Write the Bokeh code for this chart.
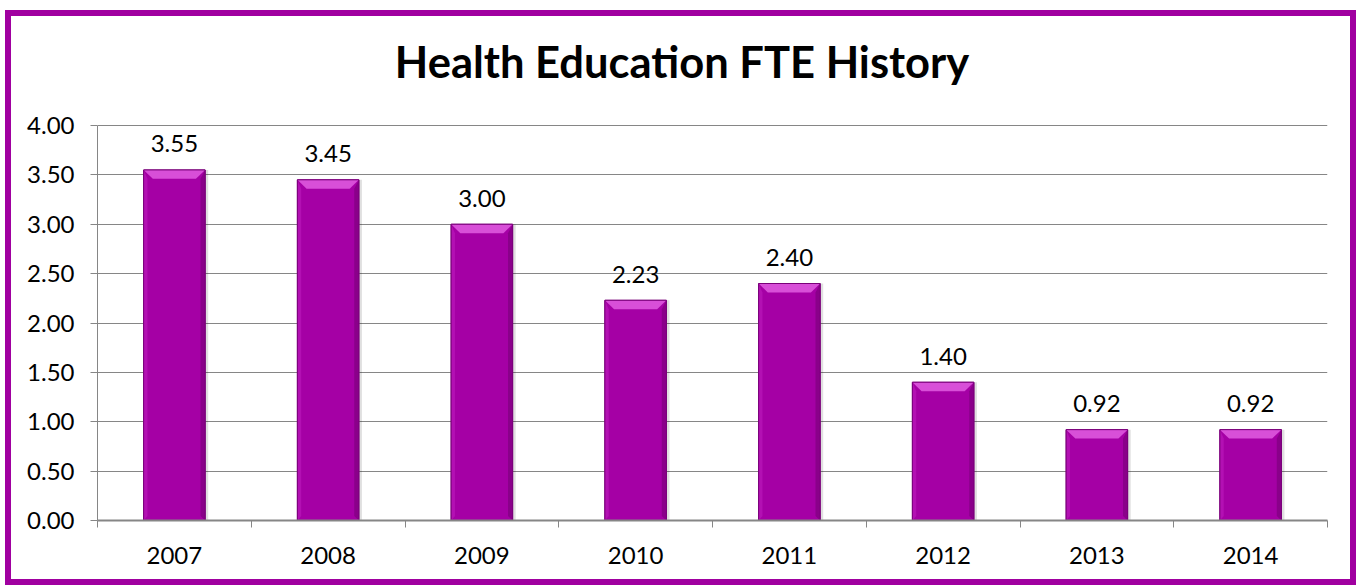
from bokeh.plotting import figure
from bokeh.models import Range1d, FixedTicker, ColumnDataSource, Label
from bokeh.core.properties import value
from bokeh.embed import file_html
from bokeh.resources import INLINE

title_text = "Health Education FTE History"
years = ["2007", "2008", "2009", "2010", "2011", "2012", "2013", "2014"]
fte = [3.55, 3.45, 3.00, 2.23, 2.40, 1.40, 0.92, 0.92]
y_ticks = [0.0, 0.5, 1.0, 1.5, 2.0, 2.5, 3.0, 3.5, 4.0]

FONT = "Lato"
GRAY = "#868686"
PURPLE = "#A000A0"

# page geometry (pixels)
W, H = 1339, 563
CANVAS_X, CANVAS_Y = 11, 16          # canvas origin inside the bordered box
FR_LEFT, FR_RIGHT, FR_BOTTOM = 97, 1327, 520
Y4_PIX = 125                          # page y of the 4.00 gridline
px_per_unit = (FR_BOTTOM - Y4_PIX) / y_ticks[-1]
y_top = (FR_BOTTOM - CANVAS_Y) / px_per_unit

L = FR_LEFT - CANVAS_X
R = (CANVAS_X + W + 12) - FR_RIGHT
B = (CANVAS_Y + H + 12) - FR_BOTTOM

p = figure(width=W, height=H, output_backend="svg", toolbar_location=None,
           x_range=Range1d(0, len(years)), y_range=Range1d(0, y_top),
           min_border_left=L, min_border_right=R, min_border_top=0, min_border_bottom=B,
           tools="")
p.styles = {"box-sizing": "content-box", "border": "6px solid " + PURPLE,
            "margin-left": "5px", "margin-top": "10px"}
p.background_fill_color = "white"
p.border_fill_color = "white"
p.outline_line_color = None

xs = [i + 0.5 for i in range(len(years))]
bw = 0.4
src = ColumnDataSource(dict(x=xs, top=fte, lab=["%.2f" % v for v in fte]))

# shadow
p.vbar(x=[x + 0.02 for x in xs], top=fte, width=bw, bottom=0, fill_color="#000000",
       fill_alpha=0.12, line_color=None)
# main bar
p.vbar(x="x", top="top", width=bw, bottom=0, source=src,
       fill_color="#A500A5", line_color="#7A007A", line_width=1)

# bevel highlight (top) and side shading
d = 0.06
hb = 0.09
tops_x, tops_y, right_x, right_y, left_x, left_y = [], [], [], [], [], []
for x, v in zip(xs, fte):
    x0, x1 = x - bw / 2, x + bw / 2
    tops_x.append([x0, x1, x1 - d, x0 + d])
    tops_y.append([v, v, v - hb, v - hb])
    right_x.append([x1, x1, x1 - 0.03, x1 - 0.03])
    right_y.append([v, 0, hb / 2, v - hb])
    left_x.append([x0, x0, x0 + 0.025, x0 + 0.025])
    left_y.append([v, 0, hb / 2, v - hb])
p.patches(left_x, left_y, fill_color="#B310B3", line_color=None)
p.patches(right_x, right_y, fill_color="#8A008A", line_color=None)
p.patches(tops_x, tops_y, fill_color="#D84FD8", line_color=None)
p.vbar(x="x", top="top", width=bw, bottom=0, source=src,
       fill_color=None, line_color="#7A007A", line_width=1)

# value labels
p.text(x="x", y="top", text="lab", source=src, text_align="center",
       text_baseline="middle", y_offset=-26, text_font=value(FONT),
       text_font_size="24px", text_color="#000000")

# axes
p.yaxis.ticker = FixedTicker(ticks=y_ticks)
p.yaxis.bounds = (y_ticks[0], y_ticks[-1])
p.yaxis.major_label_overrides = {t: "%.2f" % t for t in y_ticks}
p.yaxis.axis_line_color = GRAY
p.yaxis.major_tick_line_color = GRAY
p.yaxis.major_tick_out = 7
p.yaxis.major_tick_in = 0
p.yaxis.minor_tick_line_color = None
p.yaxis.major_label_text_font = FONT
p.yaxis.major_label_text_font_size = "24px"
p.yaxis.major_label_text_color = "#000000"
p.yaxis.major_label_standoff = 16

p.xaxis.ticker = FixedTicker(ticks=xs, minor_ticks=list(range(len(years) + 1)))
p.xaxis.major_label_overrides = {x: y for x, y in zip(xs, years)}
p.xaxis.axis_line_color = GRAY
p.xaxis.axis_line_width = 2
p.xaxis.major_tick_line_color = None
p.xaxis.minor_tick_line_color = GRAY
p.xaxis.minor_tick_out = 7
p.xaxis.minor_tick_in = 0
p.xaxis.major_label_text_font = FONT
p.xaxis.major_label_text_font_size = "24px"
p.xaxis.major_label_text_color = "#000000"
p.xaxis.major_label_standoff = 19

p.xgrid.grid_line_color = None
p.ygrid.ticker = FixedTicker(ticks=y_ticks)
p.ygrid.grid_line_color = GRAY
p.ygrid.grid_line_width = 1

# title drawn inside the (tall) frame, positioned in screen units from frame bottom-left
p.add_layout(Label(x=681.5 - FR_LEFT, y=FR_BOTTOM - 60, x_units="screen", y_units="screen",
                   text=title_text, text_font=FONT, text_font_style="bold",
                   text_font_size="43.5px", text_align="center",
                   text_baseline="alphabetic", text_color="#000000"))

open("out.html", "w").write(file_html(p, INLINE))
